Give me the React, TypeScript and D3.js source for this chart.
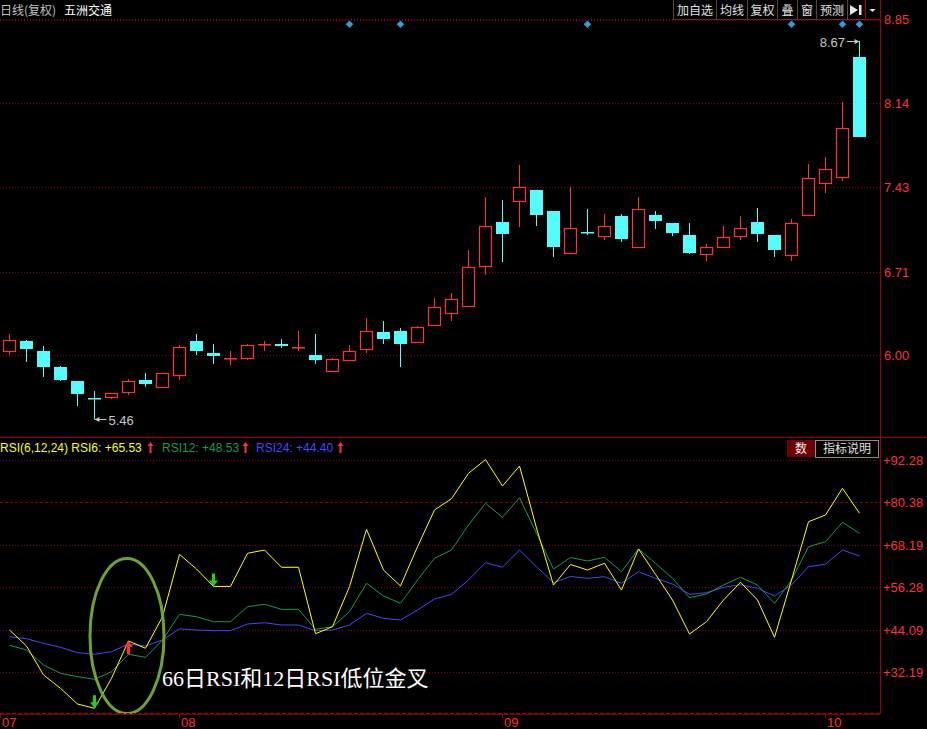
import React from "react";
import * as d3 from "d3";

// ---------- data ----------
const opens = [6.04, 6.12, 6.04, 5.90, 5.78, 5.64, 5.65, 5.69, 5.79, 5.73, 5.83, 6.12, 6.02, 5.98, 5.98, 6.10, 6.10, 6.07, 6.00, 5.87, 5.96, 6.05, 6.20, 6.21, 6.11, 6.26, 6.36, 6.42, 6.76, 7.13, 7.31, 7.40, 7.22, 6.87, 7.05, 7.01, 7.18, 6.92, 7.19, 7.12, 7.02, 6.86, 6.92, 7.01, 7.13, 7.02, 6.85, 7.19, 7.46, 7.51, 8.53];
const highs = [6.18, 6.13, 6.08, 5.91, 5.78, 5.70, 5.68, 5.80, 5.85, 5.85, 6.09, 6.18, 6.10, 6.04, 6.10, 6.12, 6.14, 6.21, 6.18, 5.98, 6.09, 6.32, 6.29, 6.23, 6.25, 6.49, 6.53, 6.89, 7.34, 7.32, 7.61, 7.40, 7.22, 7.43, 7.24, 7.20, 7.20, 7.34, 7.22, 7.12, 7.12, 6.94, 7.10, 7.18, 7.25, 7.02, 7.16, 7.62, 7.68, 8.15, 8.67];
const lows = [6.00, 5.94, 5.82, 5.78, 5.57, 5.46, 5.63, 5.66, 5.73, 5.72, 5.79, 6.00, 5.93, 5.92, 5.96, 6.04, 6.06, 6.04, 5.93, 5.86, 5.96, 6.02, 6.10, 5.90, 6.11, 6.26, 6.29, 6.42, 6.68, 6.79, 7.09, 7.10, 6.83, 6.87, 7.02, 6.98, 6.96, 6.92, 7.07, 7.01, 6.86, 6.80, 6.92, 6.98, 6.96, 6.83, 6.80, 7.19, 7.38, 7.48, 7.85];
const closes = [6.13, 6.05, 5.90, 5.79, 5.67, 5.63, 5.68, 5.78, 5.76, 5.85, 6.07, 6.04, 5.99, 5.98, 6.09, 6.10, 6.08, 6.07, 5.96, 5.97, 6.04, 6.21, 6.14, 6.10, 6.24, 6.41, 6.48, 6.75, 7.10, 7.03, 7.43, 7.19, 6.92, 7.08, 7.04, 7.10, 6.99, 7.24, 7.14, 7.04, 6.87, 6.92, 7.00, 7.08, 7.03, 6.89, 7.12, 7.50, 7.58, 7.93, 7.85];

const rsi6 = [44.09, 39.56, 31.34, 27.57, 23.12, 21.90, 30.40, 40.98, 38.91, 47.86, 65.53, 61.38, 56.45, 56.45, 65.83, 66.77, 61.87, 61.87, 43.04, 45.03, 56.37, 72.64, 61.10, 56.57, 67.70, 78.11, 81.31, 88.51, 92.40, 84.91, 90.58, 73.01, 56.85, 62.66, 61.10, 63.00, 55.43, 67.05, 59.88, 52.60, 42.96, 46.45, 52.60, 57.61, 52.60, 42.02, 58.27, 74.79, 76.69, 84.26, 77.17];
const rsi12 = [39.76, 38.42, 34.17, 31.82, 30.86, 30.12, 32.27, 37.21, 36.35, 41.26, 48.53, 47.86, 46.45, 46.45, 50.70, 51.38, 49.96, 49.96, 44.29, 45.03, 49.28, 57.33, 53.73, 51.66, 58.27, 64.42, 66.77, 73.86, 80.01, 76.04, 81.59, 71.50, 61.38, 64.64, 63.65, 64.70, 60.62, 67.05, 63.00, 58.75, 53.25, 54.30, 56.85, 59.03, 56.85, 51.66, 58.27, 67.70, 69.12, 74.62, 71.50];
const rsi24 = [42.19, 41.63, 40.32, 39.19, 37.66, 37.21, 37.94, 40.13, 39.56, 41.26, 44.40, 44.10, 43.90, 43.90, 45.79, 46.16, 45.51, 45.51, 43.90, 44.09, 45.51, 48.83, 47.41, 46.93, 49.76, 52.88, 54.21, 58.27, 63.17, 61.87, 66.77, 62.04, 57.50, 59.26, 58.75, 59.21, 57.33, 60.62, 58.75, 57.13, 54.21, 54.67, 56.20, 56.93, 55.91, 53.73, 56.85, 62.04, 62.72, 66.77, 65.07];

const priceTicks = ["8.85", "8.14", "7.43", "6.71", "6.00"];
const rsiTicks = ["92.28", "80.38", "68.19", "56.28", "44.09", "32.19"];
const monthLabels = ["07", "08", "09", "10"];
const monthStart = [-0.55, 10, 29, 48];
const signalDays = [20, 23, 34, 46, 49, 50];
const upArrowDays = [7];
const downArrowDays = [5, 12];
const cursorDay = 10;
const toolbarLabels = ["加自选", "均线", "复权", "叠", "窗", "预测"];
const headerTitle = "日线(复权)";
const stockName = "五洲交通";
const noteText = "66日RSI和12日RSI低位金叉";

// ---------- styles ----------
const RED = "#ff3232";
const CYAN = "#54fcfc";
const GRID = "#8c0000";
const AXIS = "#a00000";
const YEL = "#ffff00";
const GRN = "#1a9a4a";
const BLU = "#4646ff";
const FONT = "'Liberation Sans', Arial, sans-serif";
const CJK = "'Noto Sans CJK SC', 'Liberation Sans', sans-serif";

export default function App() {
  const W = 927, H = 729;
  const n = closes.length;
  const x = d3.scaleLinear().domain([0, n - 1]).range([9.3, 859.3]);
  const yP = d3.scaleLinear().domain([6.0, 8.85]).range([355.3, 19.3]);
  const yR = d3.scaleLinear().domain([32.19, 92.28]).range([672, 460]);
  const line = (arr: number[]) =>
    d3.line<number>().x((_, i) => Math.round(x(i)) + 0.5).y((d) => yR(d))(arr) || "";

  const candles = closes.map((c, i) => {
    const o = opens[i], h = highs[i], l = lows[i];
    const up = c >= o;
    const col = up ? RED : CYAN;
    const cx = Math.round(x(i)) + 0.5;
    const left = Math.round(x(i)) - 6;
    const yT = Math.round(yP(Math.max(o, c)));
    const yB = Math.round(yP(Math.min(o, c)));
    const yH = Math.round(yP(h)), yL = Math.round(yP(l));
    if (yB - yT < 2) {
      return (
        <g key={i}>
          <line x1={cx} x2={cx} y1={yH} y2={yL} stroke={col} />
          <rect x={left} y={yT} width={13} height={Math.max(1.5, yB - yT)} fill={col} />
        </g>
      );
    }
    if (up) {
      return (
        <g key={i}>
          <line x1={cx} x2={cx} y1={yH} y2={yT} stroke={col} />
          <line x1={cx} x2={cx} y1={yB} y2={yL} stroke={col} />
          <rect x={left + 0.5} y={yT + 0.5} width={12} height={yB - yT} fill="none" stroke={col} strokeWidth={1.2} />
        </g>
      );
    }
    return (
      <g key={i}>
        <line x1={cx} x2={cx} y1={yH} y2={yL} stroke={col} />
        <rect x={left} y={yT} width={13} height={yB - yT} fill={col} />
      </g>
    );
  });

  const maxIdx = d3.maxIndex(highs);
  const minIdx = d3.minIndex(lows);
  const hx = Math.round(x(maxIdx)) + 0.5, hy = Math.round(yP(highs[maxIdx])) + 0.5;
  const lx = Math.round(x(minIdx)) + 0.5, ly = Math.round(yP(lows[minIdx])) + 0.5;

  const btnEdges = [673, 716, 747, 777, 797, 816, 847, 865, 880];

  const arrow = (cx: number, tipY: number, dir: 1 | -1, col: string, key: string) => {
    // dir 1 = pointing down (tip at bottom), -1 = pointing up
    const head = 6, len = 13, hw = 4.5, sw = 1.6;
    const b = tipY - dir * head;
    const tail = tipY - dir * len;
    const d = `M${cx},${tipY} L${cx - hw},${b} L${cx - sw},${b} L${cx - sw},${tail} L${cx + sw},${tail} L${cx + sw},${b} L${cx + hw},${b} Z`;
    return <path key={key} d={d} fill={col} />;
  };

  const smallUp = (cx: number, key: string) => (
    <path key={key} d={`M${cx},442 L${cx - 3},446 L${cx - 1},446 L${cx - 1},453 L${cx + 1},453 L${cx + 1},446 L${cx + 3},446 Z`} fill={RED} />
  );

  const fmt = (v: number) => "+" + v.toFixed(2);

  return (
    <div style={{ position: "absolute", left: 0, top: 0, width: W, height: H, background: "#000" }}>
      <svg width={W} height={H} style={{ display: "block", background: "#000" }}>
        <rect x={0} y={0} width={W} height={H} fill="#000" />

        {/* header */}
        <text x={0} y={15} fill="#c0c0c0" fontFamily={CJK} fontSize={12}>{headerTitle}</text>
        <text x={64} y={15} fill="#ffffff" fontFamily={CJK} fontSize={12}>{stockName}</text>
        <line x1={0} x2={880} y1={20.5} y2={20.5} stroke={GRID} strokeDasharray="1 2" />

        {/* toolbar */}
        {btnEdges.slice(0, -1).map((e, k) => (
          <rect key={"b" + k} x={e + 0.5} y={-1} width={btnEdges[k + 1] - e} height={20.5} fill="#000" stroke={k === 7 ? "#b00000" : "#6a3a3a"} />
        ))}
        {toolbarLabels.map((t, k) => (
          <text key={"t" + k} x={(btnEdges[k] + btnEdges[k + 1]) / 2 + 0.5} y={15} textAnchor="middle" fill="#e0e0e0" fontFamily={CJK} fontSize={12}>{t}</text>
        ))}
        <path d="M850,5 L858,10 L850,15 Z" fill="#e8e8e8" />
        <rect x={859} y={5} width={2.5} height={10} fill="#e8e8e8" />
        <path d="M869.5,9 L875.5,9 L872.5,12 Z" fill="#e8e8e8" />

        {/* price grid */}
        {priceTicks.map((t, k) => (
          <g key={"pg" + k}>
            <line x1={0} x2={880} y1={Math.round(yP(+t)) + 0.5} y2={Math.round(yP(+t)) + 0.5} stroke={GRID} strokeDasharray="1 2" />
            <text x={884} y={yP(+t) + 5} fill={RED} fontFamily={FONT} fontSize={13}>{t}</text>
          </g>
        ))}

        {/* signal diamonds */}
        {signalDays.map((d) => {
          const cx = Math.round(x(d)) + 0.5;
          return <path key={"dm" + d} d={`M${cx},20.5 L${cx + 3.8},24.3 L${cx},28.1 L${cx - 3.8},24.3 Z`} fill="#2e9fd6" />;
        })}

        {/* candles */}
        {candles}

        {/* high / low markers */}
        <line x1={847} x2={hx} y1={hy} y2={hy} stroke="#c8c8c8" />
        <path d={`M${hx},${hy} L${hx - 5},${hy - 2.5} L${hx - 5},${hy + 2.5} Z`} fill="#c8c8c8" />
        <text x={845} y={hy + 5} textAnchor="end" fill="#c8c8c8" fontFamily={FONT} fontSize={13}>{highs[maxIdx].toFixed(2)}</text>
        <line x1={lx} x2={lx + 12} y1={ly} y2={ly} stroke="#c8c8c8" />
        <path d={`M${lx},${ly} L${lx + 5},${ly - 2.5} L${lx + 5},${ly + 2.5} Z`} fill="#c8c8c8" />
        <text x={lx + 14} y={ly + 5} fill="#c8c8c8" fontFamily={FONT} fontSize={13}>{lows[minIdx].toFixed(2)}</text>

        {/* separator */}
        <line x1={0} x2={W} y1={437.5} y2={437.5} stroke={AXIS} />

        {/* RSI header */}
        <text x={0} y={452} fill={YEL} fontFamily={FONT} fontSize={12}>{`RSI(6,12,24) RSI6: ${fmt(rsi6[cursorDay])}`}</text>
        {smallUp(150.5, "a1")}
        <text x={162} y={452} fill={GRN} fontFamily={FONT} fontSize={12}>{`RSI12: ${fmt(rsi12[cursorDay])}`}</text>
        {smallUp(245.5, "a2")}
        <text x={256} y={452} fill={BLU} fontFamily={FONT} fontSize={12}>{`RSI24: ${fmt(rsi24[cursorDay])}`}</text>
        {smallUp(340.5, "a3")}

        <rect x={787} y={440} width={28} height={17} fill="#6e0000" />
        <text x={801} y={453} textAnchor="middle" fill="#f0f0f0" fontFamily={CJK} fontSize={12}>数</text>
        <rect x={815.5} y={440.5} width={63} height={17} fill="#000" stroke="#8a8a8a" />
        <text x={847} y={453} textAnchor="middle" fill="#e0e0e0" fontFamily={CJK} fontSize={12}>指标说明</text>

        {/* RSI grid */}
        {rsiTicks.map((t, k) => (
          <g key={"rg" + k}>
            <line x1={0} x2={880} y1={Math.round(yR(+t)) + 0.5} y2={Math.round(yR(+t)) + 0.5} stroke={GRID} strokeDasharray={t === "80.38" ? "3 2" : "1 2"} />
            <text x={883} y={yR(+t) + 5} fill={RED} fontFamily={FONT} fontSize={13}>{"+" + t}</text>
          </g>
        ))}

        {/* RSI lines */}
        <path d={line(rsi24)} fill="none" stroke={BLU} strokeWidth={1} />
        <path d={line(rsi12)} fill="none" stroke={GRN} strokeWidth={1} />
        <path d={line(rsi6)} fill="none" stroke={YEL} strokeWidth={1} />

        {/* signal arrows */}
        {downArrowDays.map((d) => arrow(Math.round(x(d)) + 0.5, yR(rsi6[d]), 1, "#22cc22", "da" + d))}
        {upArrowDays.map((d) => arrow(Math.round(x(d)) + 0.5, yR(rsi6[d]), -1, RED, "ua" + d))}

        {/* annotation */}
        <ellipse cx={127} cy={636} rx={37} ry={77.5} fill="none" stroke="#6ca333" strokeWidth={3} />
        <text x={162} y={686} fill="#ffffff" fontFamily="'Liberation Serif', 'Noto Sans CJK SC', serif" fontSize={22}>{noteText}</text>

        {/* axes */}
        <line x1={880.5} x2={880.5} y1={0} y2={714} stroke={AXIS} />
        <line x1={0} x2={880} y1={713.5} y2={713.5} stroke={AXIS} strokeDasharray="4 2" />
        <line x1={0} x2={880} y1={714.5} y2={714.5} stroke="#7a0000" />
        {monthLabels.map((m, k) => {
          const tx = Math.round(x(monthStart[k])) + 0.5;
          return (
            <g key={"m" + k}>
              <line x1={tx} x2={tx} y1={714} y2={718} stroke={AXIS} />
              <text x={tx + 1.5} y={727} fill={RED} fontFamily={FONT} fontSize={13}>{m}</text>
            </g>
          );
        })}
      </svg>
    </div>
  );
}
